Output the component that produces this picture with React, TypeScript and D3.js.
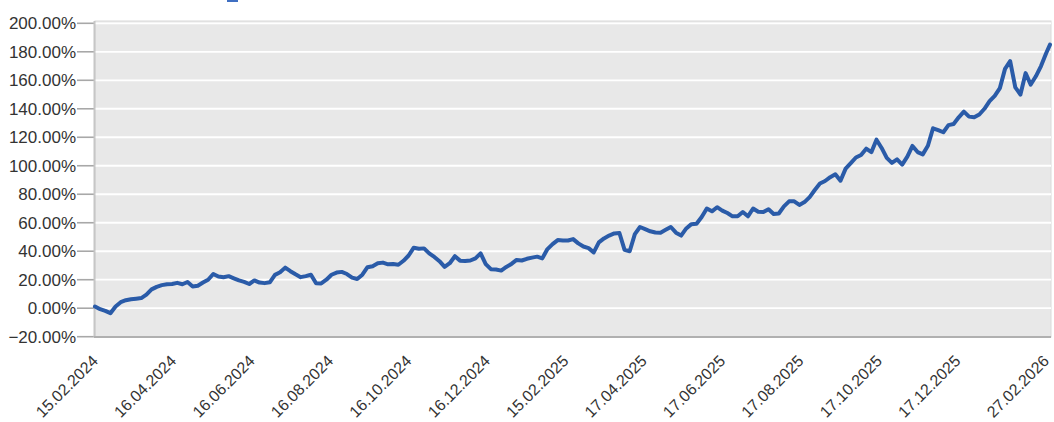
import React from "react";
import * as d3 from "d3";

const START = "15.02.2024";
const END = "27.02.2026";
const STEP_DAYS = 4;

const tickLabels = [
  "15.02.2024", "16.04.2024", "16.06.2024", "16.08.2024", "16.10.2024", "16.12.2024",
  "15.02.2025", "17.04.2025", "17.06.2025", "17.08.2025", "17.10.2025", "17.12.2025", "27.02.2026",
];

const yTicks = [-20, 0, 20, 40, 60, 80, 100, 120, 140, 160, 180, 200];

// cumulative performance (%), sampled every 4 days from START, last value on END
const values = [
  1.2, -0.7, -1.9, -3.5, 1.2, 4.2, 5.6, 6.3, 6.7, 7.1,
  9.5, 13.2, 15, 16.2, 16.8, 17, 17.8, 16.8, 18.4, 15.3,
  15.8, 18, 20, 24, 22.2, 21.7, 22.5, 21, 19.5, 18.5,
  17, 19.5, 18, 17.6, 18.2, 23.4, 25.2, 28.5, 26, 23.8,
  21.8, 22.5, 23.5, 17.5, 17.4, 20, 23.5, 25, 25.5, 24,
  21.5, 20.5, 23.5, 28.8, 29.5, 31.5, 32, 30.8, 31, 30.5,
  33.3, 37, 42.5, 41.8, 42, 38.5, 36, 33, 29, 31.6,
  36.5, 33.4, 33.2, 33.5, 35, 38.5, 31, 27.4, 27.2, 26.4,
  29, 31.1, 33.9, 33.5, 34.7, 35.5, 36.2, 35, 41.5, 45,
  47.8, 47.5, 47.5, 48.5, 45.5, 43.3, 42.2, 39.2, 46.2, 49,
  51, 52.5, 52.8, 41, 40, 52, 57, 55.5, 54, 53.2,
  53, 55, 57, 53, 51, 56, 59, 59.3, 64, 70,
  68, 70.9, 68.5, 66.8, 64.5, 64.5, 67.5, 64.5, 70, 67.7,
  67.5, 69.5, 66.2, 66.5, 71.5, 75, 75, 72.5, 74.5, 78,
  83, 87.5, 89.3, 92, 94, 89.5, 98, 101.8, 105.8, 107.6,
  112, 109.5, 118.3, 112.5, 105.5, 102, 104.5, 100.8, 106.4, 113.9,
  109.6, 108, 114, 126.3, 125, 123.5, 128.5, 129.3, 134, 138,
  134.5, 134, 136, 140, 145.3, 149, 154.5, 168, 173.5, 155,
  150, 165, 157, 162.8, 170, 179, 185,
];

const parse = d3.timeParse("%d.%m.%Y");

export default function App() {
  const W = 1054;
  const H = 422;
  const left = 95;
  const right = 1050;
  const top = 21;
  const bottom = 337;

  const start = parse(START) as Date;
  const end = parse(END) as Date;
  const dates = d3.timeDay.range(start, end, STEP_DAYS);
  dates.push(end);
  const data = values.map((v, i) => ({ date: dates[Math.min(i, dates.length - 1)], v }));

  const x = d3.scaleTime().domain([start, end]).range([left, right]);
  const y = d3.scaleLinear().domain([-20, 200]).range([336.7, 23.3]);

  const line = d3
    .line<{ date: Date; v: number }>()
    .x((d) => x(d.date))
    .y((d) => y(d.v));

  const fmt = d3.format(".2f");
  const font = "'Liberation Sans', Arial, sans-serif";

  return (
    <svg
      width={W}
      height={H}
      style={{ position: "absolute", left: 0, top: 0, background: "#fff" }}
    >
      <rect x={227} y={0} width={11} height={2} fill="#3f6fc2" />
      <rect x={left} y={top} width={1051 - left} height={bottom - top} fill="#e8e8e8" stroke="#dadada" strokeWidth={1} />
      {yTicks.map((t) => (
        <g key={t}>
          {t > -20 && (
            <line x1={left} x2={1051} y1={y(t)} y2={y(t)} stroke="#ffffff" strokeWidth={1.8} />
          )}
          <line x1={77} x2={left} y1={y(t)} y2={y(t)} stroke="#a8a8a8" strokeWidth={1.6} />
          <text
            x={76}
            y={y(t)}
            dy="0.35em"
            textAnchor="end"
            fontFamily={font}
            fontSize={17}
            fill="#333"
          >
            {fmt(t)}%
          </text>
        </g>
      ))}
      <line x1={left - 0.5} x2={left - 0.5} y1={top} y2={bottom} stroke="#c6c6c6" strokeWidth={2} />
      <line x1={left - 1} x2={1051} y1={bottom} y2={bottom} stroke="#b0b0b0" strokeWidth={2} />
      <path
        d={line(data) || ""}
        fill="none"
        stroke="#2a5ba8"
        strokeWidth={4}
        strokeLinejoin="round"
        strokeLinecap="round"
      />
      {tickLabels.map((lab) => {
        const tx = Math.min(x(parse(lab) as Date) + 4, 1050);
        const ty = 362;
        return (
          <text
            key={lab}
            transform={`translate(${tx},${ty}) rotate(-45)`}
            textAnchor="end"
            fontFamily={font}
            fontSize={16}
            fill="#333"
          >
            {lab}
          </text>
        );
      })}
    </svg>
  );
}
